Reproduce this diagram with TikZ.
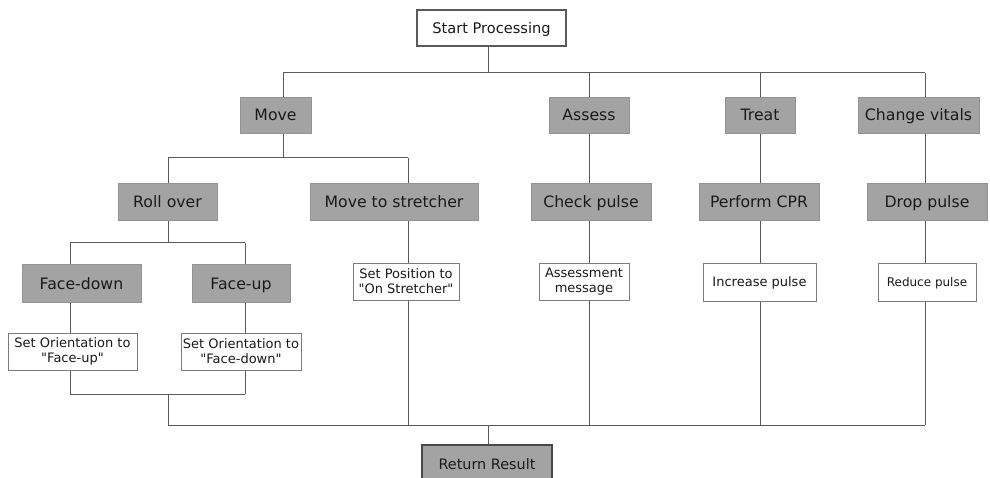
\documentclass[tikz,border=0pt]{standalone}
\usepackage{fontspec}
\setmainfont{DejaVu Sans}[Ligatures=TeXOff]
\usetikzlibrary{backgrounds}
\definecolor{boxgray}{HTML}{A3A3A3}
\definecolor{linegray}{HTML}{5A5A5A}
\definecolor{txt}{HTML}{1A1A1A}
\tikzset{
  base/.style={inner sep=0pt, outer sep=0pt, text=txt, align=center},
  graybox/.style={base, fill=boxgray, draw=boxgray!90!black, line width=0.6pt,
    font=\fontsize{15.7}{18}\selectfont, text height=12.5pt, text depth=0.5pt},
  whitebox/.style={base, fill=white, draw=linegray!80, line width=0.9pt,
    font=\fontsize{13}{15}\selectfont},
  oneline/.style={text height=10.5pt, text depth=0.5pt},
  startbox/.style={base, fill=white, draw=linegray, line width=2pt,
    font=\fontsize{14.6}{17}\selectfont, text height=12.5pt, text depth=0.5pt},
  resultbox/.style={base, fill=boxgray, draw=linegray!80!black, line width=2.2pt,
    font=\fontsize{14.4}{17}\selectfont, text height=12.5pt, text depth=0.5pt},
  link/.style={draw=linegray, line width=1pt},
}
\begin{document}
\begin{tikzpicture}[x=1pt,y=-1pt]
\useasboundingbox (0,0) rectangle (990,478);
\clip (0,0) rectangle (990,478);

% column and bar positions of the tree
\coordinate (top)   at (0,73);
\coordinate (mbar)  at (0,158);
\coordinate (rbar)  at (0,243);
\coordinate (fbar)  at (0,394);
\coordinate (bot)   at (0,425);
\coordinate (cMove) at (283,0);
\coordinate (cRoll) at (168,0);
\coordinate (cDown) at (70,0);
\coordinate (cUp)   at (245,0);
\coordinate (cStr)  at (408,0);
\coordinate (cAss)  at (589,0);
\coordinate (cTreat) at (760,0);
\coordinate (cVit)  at (925,0);
\coordinate (cMid)  at (488,0);

% top
\node[startbox, minimum width=149, minimum height=36] (start) at (491.5,28) {Start Processing};

% first level
\node[graybox, minimum width=71, minimum height=36]  (move)   at (275.5,115) {Move};
\node[graybox, minimum width=80, minimum height=36]  (assess) at (589,115)   {Assess};
\node[graybox, minimum width=70, minimum height=36]  (treat)  at (760,115)   {Treat};
\node[graybox, minimum width=121, minimum height=36] (vitals) at (918.5,115) {Change vitals};

% second level
\node[graybox, minimum width=99, minimum height=37]  (roll)      at (167.5,201.5) {Roll over};
\node[graybox, minimum width=168, minimum height=37] (stretcher) at (394,201.5)   {Move to stretcher};
\node[graybox, minimum width=120, minimum height=37] (check)     at (591,201.5)   {Check pulse};
\node[graybox, minimum width=120, minimum height=37] (cpr)       at (759,201.5)   {Perform CPR};
\node[graybox, minimum width=120, minimum height=37] (drop)      at (927,201.5)   {Drop pulse};

% third level
\node[graybox, minimum width=119, minimum height=38] (facedown) at (81.5,283) {Face-down};
\node[graybox, minimum width=98, minimum height=38]  (faceup)   at (241,283)  {Face-up};

% actions
\node[whitebox, minimum width=106, minimum height=37] (position) at (406,281.5) {Set Position to\\"On Stretcher"};
\node[whitebox, minimum width=90, minimum height=37]  (message)  at (584,281.5) {Assessment\\message};
\node[whitebox, oneline, minimum width=113, minimum height=38] (increase) at (759.5,282) {Increase pulse};
\node[whitebox, oneline, minimum width=98, minimum height=38, font=\fontsize{12}{14}\selectfont] (reduce) at (927,282) {Reduce pulse};
\node[whitebox, minimum width=129, minimum height=37] (orientup)   at (72.5,351.5) {Set Orientation to\\"Face-up"};
\node[whitebox, minimum width=120, minimum height=37] (orientdown) at (241,351.5)  {Set Orientation to\\"Face-down"};

% bottom
\node[resultbox, minimum width=130, minimum height=36] (result) at (487,463) {Return Result};

% connectors, behind the boxes (each column runs straight through its boxes)
\begin{pgfonlayer}{background}
  \draw[link] (start.south -| cMid) -- (cMid |- top);
  \draw[link] (cMove |- top) -- (cVit |- top);
  % Move branch
  \draw[link] (cMove |- top) -- (cMove |- mbar);
  \draw[link] (cRoll |- mbar) -- (cStr |- mbar);
  \draw[link] (cRoll |- mbar) -- (cRoll |- rbar);
  \draw[link] (cDown |- rbar) -- (cUp |- rbar);
  \draw[link] (cDown |- rbar) -- (cDown |- fbar);
  \draw[link] (cUp |- rbar) -- (cUp |- fbar);
  \draw[link] (cDown |- fbar) -- (cUp |- fbar);
  \draw[link] (cRoll |- fbar) -- (cRoll |- bot);
  \draw[link] (cStr |- mbar) -- (cStr |- bot);
  % other branches
  \draw[link] (cAss |- top) -- (cAss |- bot);
  \draw[link] (cTreat |- top) -- (cTreat |- bot);
  \draw[link] (cVit |- top) -- (cVit |- bot);
  % join to result
  \draw[link] (cRoll |- bot) -- (cVit |- bot);
  \draw[link] (cMid |- bot) -- (cMid |- result.north);
\end{pgfonlayer}
\end{tikzpicture}
\end{document}
